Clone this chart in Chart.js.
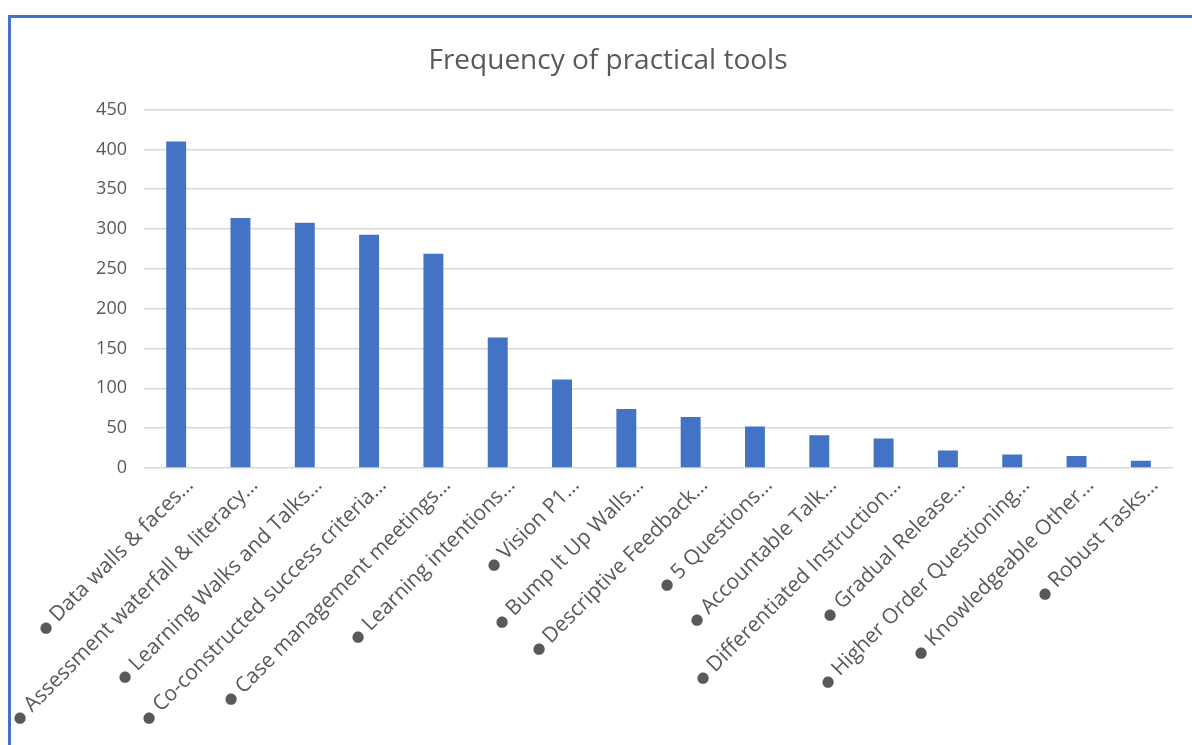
<!DOCTYPE html>
<html>
<head>
<meta charset="utf-8">
<script src="https://cdn.jsdelivr.net/npm/chart.js@4"></script>
<style>
  /* bullet glyph only, a bit smaller than the CJK one */
  @font-face {
    font-family: 'Bullet';
    src: local('Noto Sans CJK SC'), local('NotoSansCJKsc-Regular'), local('Noto Sans CJK SC Regular');
    unicode-range: U+25CF;
    size-adjust: 60%;
  }
  body { margin: 0; background: #fff; }
  #wrap { position: relative; width: 1192px; height: 745px; }
  #frame {
    position: absolute; left: 8px; top: 15px; right: 0; bottom: 0;
    border-top: 3px solid #4472C4; border-left: 3px solid #4472C4;
    pointer-events: none;
  }
</style>
</head>
<body>
<div id="wrap">
  <canvas id="tools-chart" width="1192" height="745"></canvas>
  <div id="frame"></div>
</div>
<script>
// Categories (truncated as in the original) and counts
const categories = [
  'Data walls & faces…', 'Assessment waterfall & literacy…', 'Learning Walks and Talks…',
  'Co-constructed success criteria…', 'Case management meetings…', 'Learning intentions…',
  'Vision P1…', 'Bump It Up Walls…', 'Descriptive Feedback…', '5 Questions…',
  'Accountable Talk…', 'Differentiated Instruction…', 'Gradual Release…',
  'Higher Order Questioning…', 'Knowledgeable Other…', 'Robust Tasks…'
]
const frequency = [410, 314, 308, 293, 269, 164, 111, 74, 64, 52, 41, 37, 22, 17, 15, 9]
const yTicks = [0, 50, 100, 150, 200, 250, 300, 350, 400, 450]

const textColor = '#595959'
const fontFamily = '"Open Sans", "Liberation Sans", sans-serif'
const labelFamily = 'Bullet, "Open Sans", sans-serif'

const chartCanvas = document.querySelector('#tools-chart')

function makeChart() {
  new Chart(chartCanvas, {
    type: 'bar',
    data: {
      labels: categories,
      datasets: [{
        data: frequency,
        backgroundColor: '#4472C4',
        barPercentage: 0.62,
        categoryPercentage: 0.5
      }]
    },
    options: {
      responsive: false,
      animation: false,
      layout: { padding: { left: 43, right: 19, top: 0, bottom: 0 } },
      plugins: {
        legend: { display: false },
        tooltip: { enabled: false },
        title: {
          display: true,
          text: 'Frequency of practical tools',
          color: textColor,
          font: { family: fontFamily, size: 28, weight: 'normal' },
          padding: { top: 44, bottom: 32 }
        }
      },
      scales: {
        x: {
          grid: { display: false },
          border: { display: false },
          ticks: {
            color: textColor,
            font: { family: labelFamily, size: 21 },
            minRotation: 45,
            maxRotation: 45,
            autoSkip: false,
            padding: -3,
            labelOffset: 14,
            callback: function (value) {
              return '\u25CF ' + categories[value]
            }
          },
          afterFit: function (scale) { scale.height = 277 }
        },
        y: {
          min: 0,
          max: 450,
          afterBuildTicks: function (scale) {
            scale.ticks = yTicks.map(v => ({ value: v }))
          },
          grid: { color: '#d9d9d9', lineWidth: 1.5, drawTicks: false },
          border: { display: false },
          ticks: {
            color: textColor,
            font: { family: fontFamily, size: 18 },
            padding: 17
          },
          afterFit: function (scale) { scale.width = 101 }
        }
      }
    }
  })
}

document.fonts.load('21px Bullet', '\u25CF').then(makeChart, makeChart)
</script>
</body>
</html>
